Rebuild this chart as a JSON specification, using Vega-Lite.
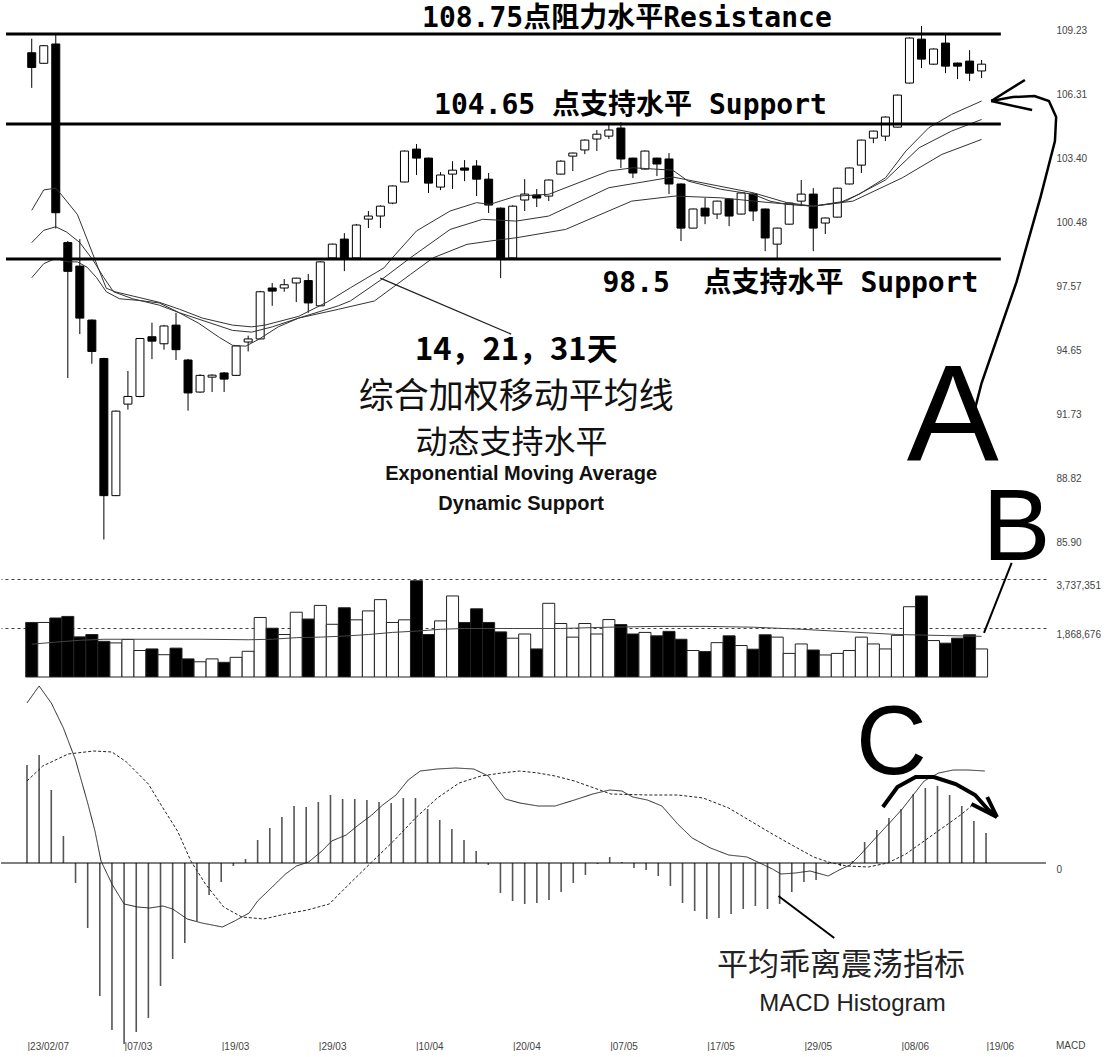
{
"$schema":"https://vega.github.io/schema/vega-lite/v6.json",
"background":"white",
"padding":{"left":0,"top":5,"right":0,"bottom":0},
"spacing":8,
"bounds":"flush",
"config":{"view":{"stroke":null},"axis":{"labelFont":"Liberation Sans Narrow, Arial Narrow, Liberation Sans, sans-serif","labelFontSize":10,"labelColor":"#444"}},
"datasets":{
"k":[
{"i":0,"o":107.90,"hi":108.54,"lo":106.30,"c":107.23,"vol":2080000,"hist":0.98},
{"i":1,"o":107.42,"hi":108.25,"lo":107.40,"c":108.22,"vol":2080000,"hist":1.08},
{"i":2,"o":108.30,"hi":108.71,"lo":99.89,"c":100.61,"vol":2250000,"hist":0.73},
{"i":3,"o":99.25,"hi":99.32,"lo":93.08,"c":97.94,"vol":2310000,"hist":0.27},
{"i":4,"o":98.18,"hi":99.41,"lo":95.08,"c":95.81,"vol":1530000,"hist":-0.20},
{"i":5,"o":95.72,"hi":95.75,"lo":93.73,"c":94.29,"vol":1620000,"hist":-0.65},
{"i":6,"o":93.97,"hi":94.00,"lo":85.72,"c":87.72,"vol":1360000,"hist":-1.33},
{"i":7,"o":87.72,"hi":91.60,"lo":87.70,"c":91.57,"vol":1300000,"hist":-1.67},
{"i":8,"o":91.89,"hi":93.40,"lo":91.64,"c":92.24,"vol":1430000,"hist":-1.81},
{"i":9,"o":92.24,"hi":94.90,"lo":92.20,"c":94.88,"vol":1010000,"hist":-1.69},
{"i":10,"o":94.96,"hi":95.60,"lo":93.94,"c":94.76,"vol":1070000,"hist":-1.55},
{"i":11,"o":94.64,"hi":95.50,"lo":94.37,"c":95.45,"vol":850000,"hist":-1.23},
{"i":12,"o":95.49,"hi":96.05,"lo":93.90,"c":94.37,"vol":1100000,"hist":-0.96},
{"i":13,"o":93.90,"hi":93.95,"lo":91.59,"c":92.40,"vol":690000,"hist":-0.80},
{"i":14,"o":92.44,"hi":93.25,"lo":92.40,"c":93.20,"vol":580000,"hist":-0.58},
{"i":15,"o":93.12,"hi":93.25,"lo":92.44,"c":93.21,"vol":690000,"hist":-0.32},
{"i":16,"o":93.31,"hi":93.35,"lo":92.44,"c":93.03,"vol":560000,"hist":-0.19},
{"i":17,"o":93.20,"hi":94.56,"lo":93.18,"c":94.54,"vol":750000,"hist":-0.03},
{"i":18,"o":94.72,"hi":95.01,"lo":94.29,"c":94.86,"vol":980000,"hist":0.04},
{"i":19,"o":94.86,"hi":97.05,"lo":94.85,"c":97.01,"vol":2270000,"hist":0.23},
{"i":20,"o":97.18,"hi":97.41,"lo":96.37,"c":97.04,"vol":1860000,"hist":0.35},
{"i":21,"o":97.18,"hi":97.59,"lo":97.01,"c":97.33,"vol":1620000,"hist":0.46},
{"i":22,"o":97.41,"hi":97.65,"lo":96.54,"c":97.63,"vol":2470000,"hist":0.57},
{"i":23,"o":97.52,"hi":97.82,"lo":96.05,"c":96.50,"vol":2210000,"hist":0.56},
{"i":24,"o":96.37,"hi":98.40,"lo":96.35,"c":98.37,"vol":2730000,"hist":0.61},
{"i":25,"o":98.55,"hi":99.20,"lo":98.50,"c":99.18,"vol":2010000,"hist":0.68},
{"i":26,"o":99.41,"hi":99.68,"lo":97.95,"c":98.50,"vol":2640000,"hist":0.64},
{"i":27,"o":98.55,"hi":100.10,"lo":98.50,"c":100.05,"vol":2180000,"hist":0.64},
{"i":28,"o":100.32,"hi":100.69,"lo":99.91,"c":100.46,"vol":2520000,"hist":0.63},
{"i":29,"o":100.46,"hi":100.95,"lo":99.91,"c":100.91,"vol":2950000,"hist":0.61},
{"i":30,"o":101.05,"hi":101.85,"lo":101.00,"c":101.83,"vol":2080000,"hist":0.60},
{"i":31,"o":102.01,"hi":103.45,"lo":102.00,"c":103.42,"vol":2180000,"hist":0.65},
{"i":32,"o":103.51,"hi":103.74,"lo":102.33,"c":103.10,"vol":3670000,"hist":0.65},
{"i":33,"o":103.10,"hi":103.12,"lo":101.51,"c":101.96,"vol":1620000,"hist":0.54},
{"i":34,"o":101.78,"hi":102.46,"lo":101.64,"c":102.33,"vol":2140000,"hist":0.43},
{"i":35,"o":102.37,"hi":102.96,"lo":101.69,"c":102.55,"vol":3090000,"hist":0.34},
{"i":36,"o":102.65,"hi":103.01,"lo":102.05,"c":102.55,"vol":2080000,"hist":0.23},
{"i":37,"o":102.74,"hi":103.01,"lo":101.37,"c":102.14,"vol":2600000,"hist":0.12},
{"i":38,"o":102.14,"hi":102.42,"lo":100.60,"c":100.96,"vol":2080000,"hist":-0.02},
{"i":39,"o":100.82,"hi":100.85,"lo":97.63,"c":98.55,"vol":1720000,"hist":-0.30},
{"i":40,"o":98.55,"hi":100.95,"lo":98.50,"c":100.91,"vol":1480000,"hist":-0.38},
{"i":41,"o":101.19,"hi":102.14,"lo":100.69,"c":101.46,"vol":1640000,"hist":-0.41},
{"i":42,"o":101.42,"hi":101.69,"lo":100.87,"c":101.28,"vol":1070000,"hist":-0.40},
{"i":43,"o":101.37,"hi":102.12,"lo":101.14,"c":102.10,"vol":2810000,"hist":-0.37},
{"i":44,"o":102.37,"hi":103.00,"lo":102.35,"c":102.96,"vol":2040000,"hist":-0.29},
{"i":45,"o":103.19,"hi":103.35,"lo":102.51,"c":103.33,"vol":1520000,"hist":-0.20},
{"i":46,"o":103.47,"hi":103.95,"lo":103.28,"c":103.92,"vol":2040000,"hist":-0.12},
{"i":47,"o":103.97,"hi":104.38,"lo":103.42,"c":104.19,"vol":1640000,"hist":-0.01},
{"i":48,"o":104.10,"hi":104.65,"lo":103.97,"c":104.38,"vol":2190000,"hist":0.06},
{"i":49,"o":104.47,"hi":104.74,"lo":102.65,"c":103.06,"vol":2000000,"hist":0.01},
{"i":50,"o":103.10,"hi":103.12,"lo":102.19,"c":102.42,"vol":1640000,"hist":-0.05},
{"i":51,"o":102.60,"hi":103.45,"lo":102.58,"c":103.42,"vol":1700000,"hist":-0.07},
{"i":52,"o":103.10,"hi":103.12,"lo":102.28,"c":102.83,"vol":1570000,"hist":-0.13},
{"i":53,"o":103.06,"hi":103.33,"lo":101.46,"c":101.92,"vol":1740000,"hist":-0.23},
{"i":54,"o":101.92,"hi":101.95,"lo":99.32,"c":99.91,"vol":1440000,"hist":-0.40},
{"i":55,"o":99.91,"hi":100.80,"lo":99.90,"c":100.78,"vol":1010000,"hist":-0.48},
{"i":56,"o":100.82,"hi":101.28,"lo":100.09,"c":100.46,"vol":970000,"hist":-0.56},
{"i":57,"o":100.55,"hi":101.16,"lo":100.32,"c":101.14,"vol":1310000,"hist":-0.55},
{"i":58,"o":101.23,"hi":101.25,"lo":100.00,"c":100.46,"vol":1570000,"hist":-0.51},
{"i":59,"o":100.55,"hi":101.53,"lo":100.53,"c":101.51,"vol":1200000,"hist":-0.46},
{"i":60,"o":101.46,"hi":101.51,"lo":100.23,"c":100.69,"vol":1060000,"hist":-0.43},
{"i":61,"o":100.78,"hi":100.80,"lo":98.86,"c":99.46,"vol":1610000,"hist":-0.46},
{"i":62,"o":99.18,"hi":99.93,"lo":98.50,"c":99.91,"vol":1520000,"hist":-0.41},
{"i":63,"o":100.09,"hi":101.07,"lo":100.07,"c":101.05,"vol":900000,"hist":-0.29},
{"i":64,"o":101.14,"hi":102.10,"lo":100.91,"c":101.46,"vol":1260000,"hist":-0.19},
{"i":65,"o":101.46,"hi":101.73,"lo":98.86,"c":99.91,"vol":1030000,"hist":-0.17},
{"i":66,"o":100.14,"hi":100.39,"lo":99.64,"c":100.37,"vol":840000,"hist":-0.01},
{"i":67,"o":100.41,"hi":101.75,"lo":100.39,"c":101.73,"vol":900000,"hist":-0.03},
{"i":68,"o":101.92,"hi":102.67,"lo":101.90,"c":102.65,"vol":1010000,"hist":0.02},
{"i":69,"o":102.78,"hi":103.94,"lo":102.42,"c":103.92,"vol":1520000,"hist":0.21},
{"i":70,"o":104.01,"hi":104.35,"lo":103.78,"c":104.33,"vol":1260000,"hist":0.33},
{"i":71,"o":104.10,"hi":105.00,"lo":103.88,"c":104.97,"vol":1070000,"hist":0.45},
{"i":72,"o":104.51,"hi":106.00,"lo":104.50,"c":105.97,"vol":1590000,"hist":0.54},
{"i":73,"o":106.52,"hi":108.60,"lo":106.50,"c":108.57,"vol":2680000,"hist":0.69},
{"i":74,"o":108.52,"hi":109.12,"lo":107.20,"c":107.61,"vol":3090000,"hist":0.75},
{"i":75,"o":107.38,"hi":108.10,"lo":107.35,"c":108.07,"vol":1390000,"hist":0.77},
{"i":76,"o":108.34,"hi":108.75,"lo":106.97,"c":107.29,"vol":1290000,"hist":0.68},
{"i":77,"o":107.43,"hi":107.45,"lo":106.70,"c":107.29,"vol":1480000,"hist":0.57},
{"i":78,"o":107.52,"hi":108.02,"lo":106.61,"c":106.97,"vol":1610000,"hist":0.42},
{"i":79,"o":107.07,"hi":107.57,"lo":106.75,"c":107.38,"vol":1070000,"hist":0.30}
],
"ema":[
{"e":"a","i":0,"p":100.72},{"e":"a","i":1,"p":101.65},{"e":"a","i":2,"p":101.73},{"e":"a","i":2.5,"p":101.41},{"e":"a","i":3.8,"p":100.53},{"e":"a","i":4.6,"p":99.41},{"e":"a","i":5.5,"p":98.13},{"e":"a","i":6.2,"p":97.17},{"e":"a","i":7,"p":97.0},{"e":"a","i":10.6,"p":96.53},{"e":"a","i":12.3,"p":96.21},{"e":"a","i":14.2,"p":95.81},{"e":"a","i":16.7,"p":95.49},{"e":"a","i":18.3,"p":95.41},{"e":"a","i":19.4,"p":95.49},{"e":"a","i":22.2,"p":95.89},{"e":"a","i":24.6,"p":96.55},{"e":"a","i":26.5,"p":97.19},{"e":"a","i":29.3,"p":98.10},{"e":"a","i":30,"p":98.56},{"e":"a","i":32,"p":99.78},{"e":"a","i":34.8,"p":100.69},{"e":"a","i":37,"p":101.07},{"e":"a","i":38.1,"p":100.99},{"e":"a","i":40.3,"p":101.37},{"e":"a","i":43,"p":101.45},{"e":"a","i":48,"p":102.51},{"e":"a","i":50,"p":102.66},{"e":"a","i":53.3,"p":102.55},{"e":"a","i":54.6,"p":102.05},{"e":"a","i":57.3,"p":101.68},{"e":"a","i":60,"p":101.45},{"e":"a","i":61.4,"p":101.14},{"e":"a","i":62.8,"p":100.99},{"e":"a","i":65,"p":100.91},{"e":"a","i":67.2,"p":101.07},{"e":"a","i":68.8,"p":101.45},{"e":"a","i":71,"p":102.20},{"e":"a","i":72.7,"p":103.42},{"e":"a","i":74.6,"p":104.48},{"e":"a","i":76.5,"p":105.09},{"e":"a","i":79,"p":105.70},
{"e":"b","i":0,"p":99.25},{"e":"b","i":1,"p":99.81},{"e":"b","i":2,"p":99.97},{"e":"b","i":2.9,"p":99.73},{"e":"b","i":4,"p":99.25},{"e":"b","i":5.1,"p":98.45},{"e":"b","i":6,"p":97.65},{"e":"b","i":6.8,"p":97.01},{"e":"b","i":8.4,"p":96.69},{"e":"b","i":10.6,"p":96.40},{"e":"b","i":12.3,"p":96.05},{"e":"b","i":14.5,"p":95.65},{"e":"b","i":16.7,"p":95.25},{"e":"b","i":18.3,"p":95.17},{"e":"b","i":20,"p":95.41},{"e":"b","i":22.2,"p":95.81},{"e":"b","i":25.5,"p":96.37},{"e":"b","i":26.5,"p":96.59},{"e":"b","i":29.3,"p":97.65},{"e":"b","i":31.5,"p":98.56},{"e":"b","i":34.8,"p":99.85},{"e":"b","i":37.5,"p":100.31},{"e":"b","i":40.3,"p":100.23},{"e":"b","i":43,"p":100.46},{"e":"b","i":48,"p":101.75},{"e":"b","i":53.3,"p":102.24},{"e":"b","i":60,"p":101.52},{"e":"b","i":62.8,"p":101.07},{"e":"b","i":65,"p":100.91},{"e":"b","i":67.7,"p":101.14},{"e":"b","i":71,"p":102.10},{"e":"b","i":73.8,"p":103.57},{"e":"b","i":76.5,"p":104.33},{"e":"b","i":79,"p":104.86},
{"e":"c","i":0,"p":97.65},{"e":"c","i":1,"p":98.29},{"e":"c","i":2,"p":98.53},{"e":"c","i":3,"p":98.37},{"e":"c","i":3.8,"p":98.37},{"e":"c","i":4.6,"p":98.13},{"e":"c","i":5.4,"p":97.65},{"e":"c","i":6.2,"p":97.01},{"e":"c","i":7.3,"p":96.69},{"e":"c","i":9,"p":96.61},{"e":"c","i":10.6,"p":96.50},{"e":"c","i":12,"p":96.13},{"e":"c","i":13.9,"p":95.57},{"e":"c","i":15.6,"p":94.93},{"e":"c","i":16.7,"p":94.57},{"e":"c","i":17.8,"p":94.53},{"e":"c","i":18.9,"p":94.85},{"e":"c","i":20.5,"p":95.41},{"e":"c","i":22.2,"p":95.81},{"e":"c","i":25.5,"p":96.21},{"e":"c","i":28.5,"p":96.59},{"e":"c","i":31.5,"p":97.80},{"e":"c","i":33.4,"p":98.56},{"e":"c","i":36.2,"p":99.17},{"e":"c","i":38.1,"p":99.32},{"e":"c","i":40.3,"p":99.47},{"e":"c","i":44.4,"p":99.85},{"e":"c","i":49.9,"p":101.14},{"e":"c","i":53.5,"p":101.37},{"e":"c","i":57.3,"p":101.29},{"e":"c","i":61.4,"p":101.07},{"e":"c","i":65,"p":100.91},{"e":"c","i":68.3,"p":101.14},{"e":"c","i":72.4,"p":102.20},{"e":"c","i":75.7,"p":103.27},{"e":"c","i":79,"p":103.95}
],
"ml":[
{"s":"MACD","i":0,"v":1.60},{"s":"MACD","i":1,"v":1.77},{"s":"MACD","i":2,"v":1.60},{"s":"MACD","i":3,"v":1.35},{"s":"MACD","i":4,"v":1.03},{"s":"MACD","i":5,"v":0.60},{"s":"MACD","i":5.6,"v":0.32},{"s":"MACD","i":6.1,"v":0.02},{"s":"MACD","i":7,"v":-0.21},{"s":"MACD","i":8,"v":-0.41},{"s":"MACD","i":9.1,"v":-0.44},{"s":"MACD","i":10.1,"v":-0.45},{"s":"MACD","i":11.2,"v":-0.43},{"s":"MACD","i":12,"v":-0.46},{"s":"MACD","i":13.2,"v":-0.56},{"s":"MACD","i":14.4,"v":-0.60},{"s":"MACD","i":16.1,"v":-0.64},{"s":"MACD","i":17.1,"v":-0.58},{"s":"MACD","i":18.3,"v":-0.50},{"s":"MACD","i":19,"v":-0.38},{"s":"MACD","i":20.2,"v":-0.24},{"s":"MACD","i":21.3,"v":-0.11},{"s":"MACD","i":22.2,"v":-0.03},{"s":"MACD","i":23.2,"v":0.01},{"s":"MACD","i":24.3,"v":0.12},{"s":"MACD","i":25.1,"v":0.22},{"s":"MACD","i":26.3,"v":0.28},{"s":"MACD","i":27.2,"v":0.37},{"s":"MACD","i":28.4,"v":0.48},{"s":"MACD","i":29.3,"v":0.58},{"s":"MACD","i":30.4,"v":0.68},{"s":"MACD","i":31.4,"v":0.83},{"s":"MACD","i":32.4,"v":0.92},{"s":"MACD","i":33.8,"v":0.94},{"s":"MACD","i":35.3,"v":0.95},{"s":"MACD","i":36.8,"v":0.94},{"s":"MACD","i":38,"v":0.87},{"s":"MACD","i":38.7,"v":0.75},{"s":"MACD","i":39.4,"v":0.64},{"s":"MACD","i":40.6,"v":0.60},{"s":"MACD","i":42.1,"v":0.57},{"s":"MACD","i":43.5,"v":0.57},{"s":"MACD","i":45.1,"v":0.63},{"s":"MACD","i":46.6,"v":0.69},{"s":"MACD","i":48,"v":0.73},{"s":"MACD","i":49,"v":0.72},{"s":"MACD","i":49.9,"v":0.66},{"s":"MACD","i":51.1,"v":0.63},{"s":"MACD","i":52.3,"v":0.57},{"s":"MACD","i":53.6,"v":0.39},{"s":"MACD","i":54.8,"v":0.25},{"s":"MACD","i":56.3,"v":0.15},{"s":"MACD","i":57.8,"v":0.08},{"s":"MACD","i":59.3,"v":0.06},{"s":"MACD","i":60.2,"v":0.01},{"s":"MACD","i":61.4,"v":-0.06},{"s":"MACD","i":62.1,"v":-0.11},{"s":"MACD","i":63.3,"v":-0.10},{"s":"MACD","i":64.5,"v":-0.08},{"s":"MACD","i":66,"v":-0.13},{"s":"MACD","i":66.9,"v":-0.07},{"s":"MACD","i":67.8,"v":-0.02},{"s":"MACD","i":68.7,"v":0.09},{"s":"MACD","i":69.9,"v":0.25},{"s":"MACD","i":71.2,"v":0.42},{"s":"MACD","i":72.1,"v":0.54},{"s":"MACD","i":73,"v":0.68},{"s":"MACD","i":73.9,"v":0.82},{"s":"MACD","i":75.1,"v":0.90},{"s":"MACD","i":76.3,"v":0.93},{"s":"MACD","i":77.5,"v":0.93},{"s":"MACD","i":78.9,"v":0.92},
{"s":"Signal","i":0,"v":0.82},{"s":"Signal","i":1.3,"v":0.97},{"s":"Signal","i":3.4,"v":1.09},{"s":"Signal","i":5.5,"v":1.12},{"s":"Signal","i":7,"v":1.11},{"s":"Signal","i":8.2,"v":1.01},{"s":"Signal","i":10,"v":0.79},{"s":"Signal","i":11.2,"v":0.55},{"s":"Signal","i":12.4,"v":0.32},{"s":"Signal","i":13.5,"v":0.02},{"s":"Signal","i":14.7,"v":-0.21},{"s":"Signal","i":16.2,"v":-0.44},{"s":"Signal","i":17.7,"v":-0.54},{"s":"Signal","i":19.5,"v":-0.56},{"s":"Signal","i":21.3,"v":-0.51},{"s":"Signal","i":23.1,"v":-0.47},{"s":"Signal","i":24.9,"v":-0.41},{"s":"Signal","i":26.3,"v":-0.24},{"s":"Signal","i":28.4,"v":0.01},{"s":"Signal","i":30.2,"v":0.22},{"s":"Signal","i":32,"v":0.45},{"s":"Signal","i":33.8,"v":0.65},{"s":"Signal","i":35.6,"v":0.80},{"s":"Signal","i":37.4,"v":0.87},{"s":"Signal","i":39.1,"v":0.90},{"s":"Signal","i":40.6,"v":0.92},{"s":"Signal","i":42.1,"v":0.90},{"s":"Signal","i":43.5,"v":0.87},{"s":"Signal","i":45.1,"v":0.82},{"s":"Signal","i":48.1,"v":0.69},{"s":"Signal","i":51.1,"v":0.68},{"s":"Signal","i":53.6,"v":0.68},{"s":"Signal","i":55.7,"v":0.65},{"s":"Signal","i":57.8,"v":0.55},{"s":"Signal","i":59.6,"v":0.42},{"s":"Signal","i":61.4,"v":0.29},{"s":"Signal","i":63.3,"v":0.16},{"s":"Signal","i":64.8,"v":0.06},{"s":"Signal","i":66,"v":0.01},{"s":"Signal","i":67.5,"v":-0.03},{"s":"Signal","i":69.3,"v":-0.04},{"s":"Signal","i":70.9,"v":0.00},{"s":"Signal","i":72.4,"v":0.09},{"s":"Signal","i":73.9,"v":0.22},{"s":"Signal","i":75.4,"v":0.35},{"s":"Signal","i":76.9,"v":0.48},{"s":"Signal","i":77.8,"v":0.57}
],
"vma":[
{"i":0,"v":1250000},{"i":1,"v":1290000},{"i":2,"v":1330000},{"i":4,"v":1400000},{"i":6,"v":1440000},{"i":10,"v":1440000},{"i":14,"v":1440000},{"i":18,"v":1420000},{"i":20,"v":1440000},{"i":22,"v":1500000},{"i":24,"v":1520000},{"i":26,"v":1560000},{"i":28,"v":1620000},{"i":30,"v":1700000},{"i":32,"v":1750000},{"i":34,"v":1820000},{"i":36,"v":1850000},{"i":40,"v":1850000},{"i":44,"v":1850000},{"i":48,"v":1900000},{"i":52,"v":1930000},{"i":56,"v":1930000},{"i":60,"v":1900000},{"i":64,"v":1820000},{"i":68,"v":1720000},{"i":72,"v":1620000},{"i":76,"v":1580000},{"i":79,"v":1550000}
],
"lv":[{"p":108.75},{"p":104.65},{"p":98.5}],
"annP":[
{"g":"L","k":0,"i":28.99,"p":97.63},{"g":"L","k":1,"i":39.87,"p":95.08},
{"g":"A","k":0,"i":78.4,"p":91.57},{"g":"A","k":1,"i":79.0,"p":92.85},{"g":"A","k":2,"i":81.9,"p":97.45},{"g":"A","k":3,"i":83.9,"p":101.32},{"g":"A","k":4,"i":85.1,"p":103.88},{"g":"A","k":5,"i":85.2,"p":104.97},{"g":"A","k":6,"i":84.6,"p":105.70},{"g":"A","k":7,"i":83.4,"p":105.93},{"g":"A","k":8,"i":81.6,"p":105.88},{"g":"A","k":9,"i":79.8,"p":105.70},
{"g":"A1","k":0,"i":79.8,"p":105.70},{"g":"A1","k":1,"i":82.6,"p":106.66},
{"g":"A2","k":0,"i":79.8,"p":105.70},{"g":"A2","k":1,"i":83.2,"p":105.29}
],
"annV":[{"g":"B","k":0,"i":81.5,"v":4350000},{"g":"B","k":1,"i":79.2,"v":1680000}],
"annM":[
{"g":"C","k":0,"i":70.5,"v":0.56},{"g":"C","k":1,"i":71.7,"v":0.76},{"g":"C","k":2,"i":73.2,"v":0.86},{"g":"C","k":3,"i":74.7,"v":0.86},{"g":"C","k":4,"i":76.5,"v":0.79},{"g":"C","k":5,"i":78.1,"v":0.68},{"g":"C","k":6,"i":79.2,"v":0.53},{"g":"C","k":7,"i":79.9,"v":0.46},
{"g":"C1","k":0,"i":79.9,"v":0.46},{"g":"C1","k":1,"i":77.8,"v":0.59},
{"g":"C2","k":0,"i":79.9,"v":0.46},{"g":"C2","k":1,"i":79.1,"v":0.66},
{"g":"M","k":0,"i":61.9,"v":-0.33},{"g":"M","k":1,"i":66.5,"v":-0.75}
]
},
"vconcat":[
{"width":1045,"height":550,"layer":[
{"data":{"name":"k"},"mark":{"type":"rule","color":"black","strokeWidth":1},
 "encoding":{"x":{"field":"i","type":"quantitative","scale":{"domain":[-2.14,83.94],"nice":false,"zero":false},"axis":null},
 "y":{"field":"lo","type":"quantitative","scale":{"domain":[84.97,110.03],"nice":false,"zero":false},
  "axis":{"orient":"right","values":[85.90,88.82,91.73,94.65,97.57,100.48,103.40,106.31,109.23],"format":".2f","domain":false,"ticks":false,"grid":false,"labelPadding":10,"labelBaseline":"top","labelOffset":2,"labelAlign":"left","title":null}},
 "y2":{"field":"hi"}}},
{"data":{"name":"k"},"mark":{"type":"bar","size":8,"stroke":"black","strokeWidth":1},
 "encoding":{"x":{"field":"i","type":"quantitative","scale":{"domain":[-2.14,83.94],"nice":false,"zero":false},"axis":null},
 "y":{"field":"o","type":"quantitative","scale":{"domain":[84.97,110.03],"nice":false,"zero":false},
  "axis":{"orient":"right","values":[85.90,88.82,91.73,94.65,97.57,100.48,103.40,106.31,109.23],"format":".2f","domain":false,"ticks":false,"grid":false,"labelPadding":10,"labelBaseline":"top","labelOffset":2,"labelAlign":"left","title":null}},
 "y2":{"field":"c"},
 "fill":{"condition":{"test":"datum.c >= datum.o","value":"white"},"value":"black"}}},
{"data":{"name":"ema"},"mark":{"type":"line","color":"#333","strokeWidth":1},
 "encoding":{"x":{"field":"i","type":"quantitative","scale":{"domain":[-2.14,83.94],"nice":false,"zero":false},"axis":null},
 "y":{"field":"p","type":"quantitative","scale":{"domain":[84.97,110.03],"nice":false,"zero":false},
  "axis":{"orient":"right","values":[85.90,88.82,91.73,94.65,97.57,100.48,103.40,106.31,109.23],"format":".2f","domain":false,"ticks":false,"grid":false,"labelPadding":10,"labelBaseline":"top","labelOffset":2,"labelAlign":"left","title":null}},
 "detail":{"field":"e"}}},
{"data":{"name":"lv"},"mark":{"type":"rule","color":"black","strokeWidth":3},
 "encoding":{"x":{"datum":-2.14,"type":"quantitative","scale":{"domain":[-2.14,83.94],"nice":false,"zero":false},"axis":null},"x2":{"datum":80.6},
 "y":{"field":"p","type":"quantitative","scale":{"domain":[84.97,110.03],"nice":false,"zero":false},
  "axis":{"orient":"right","values":[85.90,88.82,91.73,94.65,97.57,100.48,103.40,106.31,109.23],"format":".2f","domain":false,"ticks":false,"grid":false,"labelPadding":10,"labelBaseline":"top","labelOffset":2,"labelAlign":"left","title":null}}}},
{"data":{"values":[{}]},"mark":{"type":"text","text":"108.75点阻力水平Resistance","font":"DejaVu Sans Mono, Noto Sans CJK SC","fontSize":28,"fontWeight":"bold","align":"center","baseline":"middle","color":"black"},
 "encoding":{"x":{"datum":49.5,"type":"quantitative","scale":{"domain":[-2.14,83.94],"nice":false,"zero":false},"axis":null},"y":{"datum":109.43,"type":"quantitative","scale":{"domain":[84.97,110.03],"nice":false,"zero":false},
  "axis":{"orient":"right","values":[85.90,88.82,91.73,94.65,97.57,100.48,103.40,106.31,109.23],"format":".2f","domain":false,"ticks":false,"grid":false,"labelPadding":10,"labelBaseline":"top","labelOffset":2,"labelAlign":"left","title":null}}}},
{"data":{"values":[{}]},"mark":{"type":"text","text":"104.65 点支持水平 Support","font":"DejaVu Sans Mono, Noto Sans CJK SC","fontSize":28,"fontWeight":"bold","align":"center","baseline":"middle","color":"black"},
 "encoding":{"x":{"datum":49.8,"type":"quantitative","scale":{"domain":[-2.14,83.94],"nice":false,"zero":false},"axis":null},"y":{"datum":105.47,"type":"quantitative","scale":{"domain":[84.97,110.03],"nice":false,"zero":false},
  "axis":{"orient":"right","values":[85.90,88.82,91.73,94.65,97.57,100.48,103.40,106.31,109.23],"format":".2f","domain":false,"ticks":false,"grid":false,"labelPadding":10,"labelBaseline":"top","labelOffset":2,"labelAlign":"left","title":null}}}},
{"data":{"values":[{}]},"mark":{"type":"text","text":"98.5\u00a0\u00a0点支持水平 Support","font":"DejaVu Sans Mono, Noto Sans CJK SC","fontSize":28,"fontWeight":"bold","align":"center","baseline":"middle","color":"black"},
 "encoding":{"x":{"datum":63.1,"type":"quantitative","scale":{"domain":[-2.14,83.94],"nice":false,"zero":false},"axis":null},"y":{"datum":97.36,"type":"quantitative","scale":{"domain":[84.97,110.03],"nice":false,"zero":false},
  "axis":{"orient":"right","values":[85.90,88.82,91.73,94.65,97.57,100.48,103.40,106.31,109.23],"format":".2f","domain":false,"ticks":false,"grid":false,"labelPadding":10,"labelBaseline":"top","labelOffset":2,"labelAlign":"left","title":null}}}},
{"data":{"values":[{}]},"mark":{"type":"text","text":"14，21，31天","font":"Noto Sans CJK SC","fontSize":31,"fontWeight":"bold","align":"center","baseline":"middle","color":"black"},
 "encoding":{"x":{"datum":40.3,"type":"quantitative","scale":{"domain":[-2.14,83.94],"nice":false,"zero":false},"axis":null},"y":{"datum":94.30,"type":"quantitative","scale":{"domain":[84.97,110.03],"nice":false,"zero":false},
  "axis":{"orient":"right","values":[85.90,88.82,91.73,94.65,97.57,100.48,103.40,106.31,109.23],"format":".2f","domain":false,"ticks":false,"grid":false,"labelPadding":10,"labelBaseline":"top","labelOffset":2,"labelAlign":"left","title":null}}}},
{"data":{"values":[{}]},"mark":{"type":"text","text":"综合加权移动平均线","font":"Noto Sans CJK SC","fontSize":35,"align":"center","baseline":"middle","color":"#111"},
 "encoding":{"x":{"datum":40.3,"type":"quantitative","scale":{"domain":[-2.14,83.94],"nice":false,"zero":false},"axis":null},"y":{"datum":92.20,"type":"quantitative","scale":{"domain":[84.97,110.03],"nice":false,"zero":false},
  "axis":{"orient":"right","values":[85.90,88.82,91.73,94.65,97.57,100.48,103.40,106.31,109.23],"format":".2f","domain":false,"ticks":false,"grid":false,"labelPadding":10,"labelBaseline":"top","labelOffset":2,"labelAlign":"left","title":null}}}},
{"data":{"values":[{}]},"mark":{"type":"text","text":"动态支持水平","font":"Noto Sans CJK SC","fontSize":32,"align":"center","baseline":"middle","color":"#111"},
 "encoding":{"x":{"datum":39.9,"type":"quantitative","scale":{"domain":[-2.14,83.94],"nice":false,"zero":false},"axis":null},"y":{"datum":90.12,"type":"quantitative","scale":{"domain":[84.97,110.03],"nice":false,"zero":false},
  "axis":{"orient":"right","values":[85.90,88.82,91.73,94.65,97.57,100.48,103.40,106.31,109.23],"format":".2f","domain":false,"ticks":false,"grid":false,"labelPadding":10,"labelBaseline":"top","labelOffset":2,"labelAlign":"left","title":null}}}},
{"data":{"values":[{}]},"mark":{"type":"text","text":"Exponential Moving Average","font":"Liberation Sans Narrow, Arial Narrow, Liberation Sans, sans-serif","fontSize":20,"fontWeight":"bold","align":"center","baseline":"middle","color":"#111"},
 "encoding":{"x":{"datum":40.7,"type":"quantitative","scale":{"domain":[-2.14,83.94],"nice":false,"zero":false},"axis":null},"y":{"datum":88.70,"type":"quantitative","scale":{"domain":[84.97,110.03],"nice":false,"zero":false},
  "axis":{"orient":"right","values":[85.90,88.82,91.73,94.65,97.57,100.48,103.40,106.31,109.23],"format":".2f","domain":false,"ticks":false,"grid":false,"labelPadding":10,"labelBaseline":"top","labelOffset":2,"labelAlign":"left","title":null}}}},
{"data":{"values":[{}]},"mark":{"type":"text","text":"Dynamic Support","font":"Liberation Sans Narrow, Arial Narrow, Liberation Sans, sans-serif","fontSize":20,"fontWeight":"bold","align":"center","baseline":"middle","color":"#111"},
 "encoding":{"x":{"datum":40.7,"type":"quantitative","scale":{"domain":[-2.14,83.94],"nice":false,"zero":false},"axis":null},"y":{"datum":87.34,"type":"quantitative","scale":{"domain":[84.97,110.03],"nice":false,"zero":false},
  "axis":{"orient":"right","values":[85.90,88.82,91.73,94.65,97.57,100.48,103.40,106.31,109.23],"format":".2f","domain":false,"ticks":false,"grid":false,"labelPadding":10,"labelBaseline":"top","labelOffset":2,"labelAlign":"left","title":null}}}},
{"data":{"values":[{}]},"mark":{"type":"text","text":"A","font":"Liberation Sans Narrow, Arial Narrow, Liberation Sans, sans-serif","fontSize":138,"align":"center","baseline":"alphabetic","color":"black"},
 "encoding":{"x":{"datum":76.6,"type":"quantitative","scale":{"domain":[-2.14,83.94],"nice":false,"zero":false},"axis":null},"y":{"datum":89.30,"type":"quantitative","scale":{"domain":[84.97,110.03],"nice":false,"zero":false},
  "axis":{"orient":"right","values":[85.90,88.82,91.73,94.65,97.57,100.48,103.40,106.31,109.23],"format":".2f","domain":false,"ticks":false,"grid":false,"labelPadding":10,"labelBaseline":"top","labelOffset":2,"labelAlign":"left","title":null}}}},
{"data":{"values":[{}]},"mark":{"type":"text","text":"B","font":"Liberation Sans Narrow, Arial Narrow, Liberation Sans, sans-serif","fontSize":102,"align":"center","baseline":"alphabetic","color":"black"},
 "encoding":{"x":{"datum":81.9,"type":"quantitative","scale":{"domain":[-2.14,83.94],"nice":false,"zero":false},"axis":null},"y":{"datum":84.79,"type":"quantitative","scale":{"domain":[84.97,110.03],"nice":false,"zero":false},
  "axis":{"orient":"right","values":[85.90,88.82,91.73,94.65,97.57,100.48,103.40,106.31,109.23],"format":".2f","domain":false,"ticks":false,"grid":false,"labelPadding":10,"labelBaseline":"top","labelOffset":2,"labelAlign":"left","title":null}}}},
{"data":{"name":"annP"},"transform":[{"filter":"datum.g != 'L'"}],"mark":{"type":"line","color":"black","strokeWidth":2.5},
 "encoding":{"x":{"field":"i","type":"quantitative","scale":{"domain":[-2.14,83.94],"nice":false,"zero":false},"axis":null},
 "y":{"field":"p","type":"quantitative","scale":{"domain":[84.97,110.03],"nice":false,"zero":false},
  "axis":{"orient":"right","values":[85.90,88.82,91.73,94.65,97.57,100.48,103.40,106.31,109.23],"format":".2f","domain":false,"ticks":false,"grid":false,"labelPadding":10,"labelBaseline":"top","labelOffset":2,"labelAlign":"left","title":null}},
 "detail":{"field":"g"},"order":{"field":"k"}}},
{"data":{"name":"annP"},"transform":[{"filter":"datum.g == 'L'"}],"mark":{"type":"line","color":"#222","strokeWidth":1.3},
 "encoding":{"x":{"field":"i","type":"quantitative","scale":{"domain":[-2.14,83.94],"nice":false,"zero":false},"axis":null},
 "y":{"field":"p","type":"quantitative","scale":{"domain":[84.97,110.03],"nice":false,"zero":false},
  "axis":{"orient":"right","values":[85.90,88.82,91.73,94.65,97.57,100.48,103.40,106.31,109.23],"format":".2f","domain":false,"ticks":false,"grid":false,"labelPadding":10,"labelBaseline":"top","labelOffset":2,"labelAlign":"left","title":null}},
 "order":{"field":"k"}}}
]},
{"width":1045,"height":113,"layer":[
{"data":{"name":"k"},"mark":{"type":"bar","size":12,"stroke":"#222","strokeWidth":1},
 "encoding":{"x":{"field":"i","type":"quantitative","scale":{"domain":[-2.14,83.94],"nice":false,"zero":false},"axis":null},
 "y":{"field":"vol","type":"quantitative","scale":{"domain":[0,4309000],"nice":false,"zero":false},
  "axis":{"orient":"right","values":[1868676,3737351],"format":",d","grid":true,"gridDash":[3,3],"gridColor":"#444","gridWidth":1,"domain":false,"ticks":false,"labelPadding":10,"labelBaseline":"top","labelOffset":2,"labelAlign":"left","title":null}},
 "fill":{"condition":{"test":"datum.c >= datum.o","value":"white"},"value":"black"}}},
{"data":{"name":"vma"},"mark":{"type":"line","color":"#444","strokeWidth":1},
 "encoding":{"x":{"field":"i","type":"quantitative","scale":{"domain":[-2.14,83.94],"nice":false,"zero":false},"axis":null},
 "y":{"field":"v","type":"quantitative","scale":{"domain":[0,4309000],"nice":false,"zero":false},
  "axis":{"orient":"right","values":[1868676,3737351],"format":",d","grid":true,"gridDash":[3,3],"gridColor":"#444","gridWidth":1,"domain":false,"ticks":false,"labelPadding":10,"labelBaseline":"top","labelOffset":2,"labelAlign":"left","title":null}}}},
{"data":{"name":"annV"},"mark":{"type":"line","color":"black","strokeWidth":2},
 "encoding":{"x":{"field":"i","type":"quantitative","scale":{"domain":[-2.14,83.94],"nice":false,"zero":false},"axis":null},
 "y":{"field":"v","type":"quantitative","scale":{"domain":[0,4309000],"nice":false,"zero":false},
  "axis":{"orient":"right","values":[1868676,3737351],"format":",d","grid":true,"gridDash":[3,3],"gridColor":"#444","gridWidth":1,"domain":false,"ticks":false,"labelPadding":10,"labelBaseline":"top","labelOffset":2,"labelAlign":"left","title":null}},
 "order":{"field":"k"}}}
]},
{"width":1045,"height":352,"layer":[
{"data":{"name":"k"},"mark":{"type":"rule","color":"#555","strokeWidth":1.6},
 "encoding":{"x":{"field":"i","type":"quantitative","scale":{"domain":[-2.14,83.94],"nice":false,"zero":false},
  "axis":{"orient":"bottom","values":[0,8,16,24,32,40,48,56,64,72,79],"labelExpr":"'|' + ['23/02/07','07/03','19/03','29/03','10/04','20/04','07/05','17/05','29/05','08/06','19/06'][indexof([0,8,16,24,32,40,48,56,64,72,79], datum.value)]","labelAlign":"left","labelPadding":4,"ticks":false,"domain":false,"grid":false,"labelFlush":false,"labelOverlap":false,"title":null}},
 "y":{"field":"hist","type":"quantitative","scale":{"domain":[-1.74,1.78],"nice":false,"zero":false},
  "axis":{"orient":"right","values":[0],"domain":false,"ticks":false,"grid":false,"labelPadding":10,"labelBaseline":"top","labelOffset":1,"labelAlign":"left","title":null}},
 "y2":{"datum":0}}},
{"data":{"values":[{}]},"mark":{"type":"rule","color":"black","strokeWidth":1.2},
 "encoding":{"y":{"datum":0,"type":"quantitative","scale":{"domain":[-1.74,1.78],"nice":false,"zero":false},
  "axis":{"orient":"right","values":[0],"domain":false,"ticks":false,"grid":false,"labelPadding":10,"labelBaseline":"top","labelOffset":1,"labelAlign":"left","title":null}}}},
{"data":{"name":"ml"},"mark":{"type":"line","color":"#222","strokeWidth":1},
 "encoding":{"x":{"field":"i","type":"quantitative","scale":{"domain":[-2.14,83.94],"nice":false,"zero":false},
  "axis":{"orient":"bottom","values":[0,8,16,24,32,40,48,56,64,72,79],"labelExpr":"'|' + ['23/02/07','07/03','19/03','29/03','10/04','20/04','07/05','17/05','29/05','08/06','19/06'][indexof([0,8,16,24,32,40,48,56,64,72,79], datum.value)]","labelAlign":"left","labelPadding":4,"ticks":false,"domain":false,"grid":false,"labelFlush":false,"labelOverlap":false,"title":null}},
 "y":{"field":"v","type":"quantitative","scale":{"domain":[-1.74,1.78],"nice":false,"zero":false},
  "axis":{"orient":"right","values":[0],"domain":false,"ticks":false,"grid":false,"labelPadding":10,"labelBaseline":"top","labelOffset":1,"labelAlign":"left","title":null}},
 "detail":{"field":"s"},
 "strokeDash":{"field":"s","type":"nominal","scale":{"domain":["MACD","Signal"],"range":[[1,0],[3,2]]},"legend":null}}},
{"data":{"name":"annM"},"transform":[{"filter":"datum.g != 'M'"}],"mark":{"type":"line","color":"black","strokeWidth":4},
 "encoding":{"x":{"field":"i","type":"quantitative","scale":{"domain":[-2.14,83.94],"nice":false,"zero":false},
  "axis":{"orient":"bottom","values":[0,8,16,24,32,40,48,56,64,72,79],"labelExpr":"'|' + ['23/02/07','07/03','19/03','29/03','10/04','20/04','07/05','17/05','29/05','08/06','19/06'][indexof([0,8,16,24,32,40,48,56,64,72,79], datum.value)]","labelAlign":"left","labelPadding":4,"ticks":false,"domain":false,"grid":false,"labelFlush":false,"labelOverlap":false,"title":null}},
 "y":{"field":"v","type":"quantitative","scale":{"domain":[-1.74,1.78],"nice":false,"zero":false},
  "axis":{"orient":"right","values":[0],"domain":false,"ticks":false,"grid":false,"labelPadding":10,"labelBaseline":"top","labelOffset":1,"labelAlign":"left","title":null}},
 "detail":{"field":"g"},"order":{"field":"k"}}},
{"data":{"name":"annM"},"transform":[{"filter":"datum.g == 'M'"}],"mark":{"type":"line","color":"black","strokeWidth":2},
 "encoding":{"x":{"field":"i","type":"quantitative","scale":{"domain":[-2.14,83.94],"nice":false,"zero":false},
  "axis":{"orient":"bottom","values":[0,8,16,24,32,40,48,56,64,72,79],"labelExpr":"'|' + ['23/02/07','07/03','19/03','29/03','10/04','20/04','07/05','17/05','29/05','08/06','19/06'][indexof([0,8,16,24,32,40,48,56,64,72,79], datum.value)]","labelAlign":"left","labelPadding":4,"ticks":false,"domain":false,"grid":false,"labelFlush":false,"labelOverlap":false,"title":null}},
 "y":{"field":"v","type":"quantitative","scale":{"domain":[-1.74,1.78],"nice":false,"zero":false},
  "axis":{"orient":"right","values":[0],"domain":false,"ticks":false,"grid":false,"labelPadding":10,"labelBaseline":"top","labelOffset":1,"labelAlign":"left","title":null}},
 "order":{"field":"k"}}},
{"data":{"values":[{}]},"mark":{"type":"text","text":"C","font":"Liberation Sans Narrow, Arial Narrow, Liberation Sans, sans-serif","fontSize":98,"align":"center","baseline":"alphabetic","color":"black"},
 "encoding":{"x":{"datum":71.2,"type":"quantitative","scale":{"domain":[-2.14,83.94],"nice":false,"zero":false},
  "axis":{"orient":"bottom","values":[0,8,16,24,32,40,48,56,64,72,79],"labelExpr":"'|' + ['23/02/07','07/03','19/03','29/03','10/04','20/04','07/05','17/05','29/05','08/06','19/06'][indexof([0,8,16,24,32,40,48,56,64,72,79], datum.value)]","labelAlign":"left","labelPadding":4,"ticks":false,"domain":false,"grid":false,"labelFlush":false,"labelOverlap":false,"title":null}},
 "y":{"datum":0.89,"type":"quantitative","scale":{"domain":[-1.74,1.78],"nice":false,"zero":false},
  "axis":{"orient":"right","values":[0],"domain":false,"ticks":false,"grid":false,"labelPadding":10,"labelBaseline":"top","labelOffset":1,"labelAlign":"left","title":null}}}},
{"data":{"values":[{}]},"mark":{"type":"text","text":"平均乖离震荡指标","font":"Noto Sans CJK SC","fontSize":31,"align":"center","baseline":"middle","color":"#222"},
 "encoding":{"x":{"datum":67.05,"type":"quantitative","scale":{"domain":[-2.14,83.94],"nice":false,"zero":false},
  "axis":{"orient":"bottom","values":[0,8,16,24,32,40,48,56,64,72,79],"labelExpr":"'|' + ['23/02/07','07/03','19/03','29/03','10/04','20/04','07/05','17/05','29/05','08/06','19/06'][indexof([0,8,16,24,32,40,48,56,64,72,79], datum.value)]","labelAlign":"left","labelPadding":4,"ticks":false,"domain":false,"grid":false,"labelFlush":false,"labelOverlap":false,"title":null}},
 "y":{"datum":-1.03,"type":"quantitative","scale":{"domain":[-1.74,1.78],"nice":false,"zero":false},
  "axis":{"orient":"right","values":[0],"domain":false,"ticks":false,"grid":false,"labelPadding":10,"labelBaseline":"top","labelOffset":1,"labelAlign":"left","title":null}}}},
{"data":{"values":[{}]},"mark":{"type":"text","text":"MACD Histogram","font":"Liberation Sans Narrow, Arial Narrow, Liberation Sans, sans-serif","fontSize":24,"align":"center","baseline":"middle","color":"#222"},
 "encoding":{"x":{"datum":68.0,"type":"quantitative","scale":{"domain":[-2.14,83.94],"nice":false,"zero":false},
  "axis":{"orient":"bottom","values":[0,8,16,24,32,40,48,56,64,72,79],"labelExpr":"'|' + ['23/02/07','07/03','19/03','29/03','10/04','20/04','07/05','17/05','29/05','08/06','19/06'][indexof([0,8,16,24,32,40,48,56,64,72,79], datum.value)]","labelAlign":"left","labelPadding":4,"ticks":false,"domain":false,"grid":false,"labelFlush":false,"labelOverlap":false,"title":null}},
 "y":{"datum":-1.41,"type":"quantitative","scale":{"domain":[-1.74,1.78],"nice":false,"zero":false},
  "axis":{"orient":"right","values":[0],"domain":false,"ticks":false,"grid":false,"labelPadding":10,"labelBaseline":"top","labelOffset":1,"labelAlign":"left","title":null}}}},
{"data":{"values":[{}]},"mark":{"type":"text","text":"MACD","font":"Liberation Sans Narrow, Arial Narrow, Liberation Sans, sans-serif","fontSize":10,"align":"left","baseline":"middle","color":"#444"},
 "encoding":{"x":{"datum":84.76,"type":"quantitative","scale":{"domain":[-2.14,83.94],"nice":false,"zero":false},
  "axis":{"orient":"bottom","values":[0,8,16,24,32,40,48,56,64,72,79],"labelExpr":"'|' + ['23/02/07','07/03','19/03','29/03','10/04','20/04','07/05','17/05','29/05','08/06','19/06'][indexof([0,8,16,24,32,40,48,56,64,72,79], datum.value)]","labelAlign":"left","labelPadding":4,"ticks":false,"domain":false,"grid":false,"labelFlush":false,"labelOverlap":false,"title":null}},
 "y":{"datum":-1.83,"type":"quantitative","scale":{"domain":[-1.74,1.78],"nice":false,"zero":false},
  "axis":{"orient":"right","values":[0],"domain":false,"ticks":false,"grid":false,"labelPadding":10,"labelBaseline":"top","labelOffset":1,"labelAlign":"left","title":null}}}}
]}
]
}
